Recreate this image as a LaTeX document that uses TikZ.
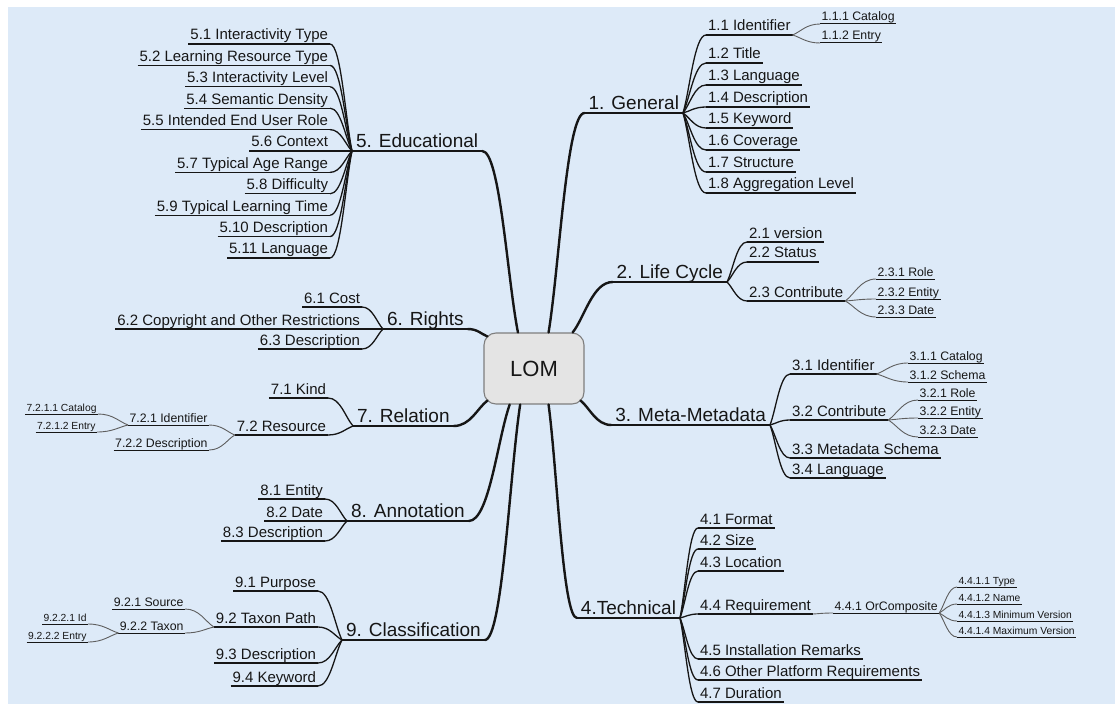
\documentclass[tikz,border=0pt]{standalone}
\usepackage{fontspec}
\setmainfont{Liberation Sans}
\usetikzlibrary{calc}

\definecolor{mapbg}{HTML}{DDEAF8}
\definecolor{rootfill}{HTML}{E4E4E4}
\definecolor{rootdraw}{HTML}{7E7E7E}
\definecolor{twig}{HTML}{5E5E5E}
\definecolor{ink}{HTML}{161616}

\newcommand\rootsize{\fontsize{22}{26}\selectfont}
\newcommand\mainsize{\fontsize{19}{22}\selectfont}
\newcommand\leafsize{\fontsize{15}{18}\selectfont}
\newcommand\subsize{\fontsize{12.3}{14}\selectfont}
\newcommand\smallestsize{\fontsize{10.3}{12}\selectfont}

\tikzset{
  lbl/.style={inner ysep=0pt, outer sep=0pt, text=ink},
  mainL/.style={lbl, font=\mainsize, inner xsep=4pt, text depth=3.5pt, anchor=south west},
  mainR/.style={lbl, font=\mainsize, inner xsep=4pt, text depth=3.5pt, anchor=south east},
  leafL/.style={lbl, font=\leafsize, inner xsep=2pt, text depth=4pt, anchor=south east},
  leafR/.style={lbl, font=\leafsize, inner xsep=2pt, text depth=4pt, anchor=south west},
  subL/.style={lbl, font=\subsize, inner xsep=1.5pt, text depth=3pt, anchor=south east},
  subR/.style={lbl, font=\subsize, inner xsep=1.5pt, text depth=3pt, anchor=south west},
  tinyL/.style={lbl, font=\smallestsize, inner xsep=1.5pt, text depth=2.5pt, anchor=south east},
  tinyR/.style={lbl, font=\smallestsize, inner xsep=1.5pt, text depth=2.5pt, anchor=south west},
  root/.style={draw=rootdraw, fill=rootfill, line width=1.1pt, rounded corners=12pt,
    minimum width=100pt, minimum height=71pt, font=\rootsize, text=ink},
  % curve that leaves its start towards the target and ends horizontally
  fan/.style={to path={let \p1=(\tikztostart), \p2=(\tikztotarget) in
      .. controls ($(\p1)!#1!(\p2)$) and ({0.5*\x1+0.5*\x2},\y2) .. (\tikztotarget)}},
  fan/.default=0.3,
  trunk/.style={draw=ink, line width=2.4pt, line cap=round},
  bough/.style={draw=ink, line width=1.3pt},
  twigline/.style={draw=twig, line width=0.9pt},
  rule/.style={draw=ink, line width=1.3pt},
  subrule/.style={draw=ink, line width=1pt},
}

\begin{document}
\begin{tikzpicture}[x=1pt,y=-1pt]
\fill[white] (0,0) rectangle (1115,711);
\fill[mapbg] (8,7) rectangle (1115,704);
\useasboundingbox (0,0) rectangle (1115,711);

% root
\node[root] (lom) at (534,368.5) {LOM};
\coordinate (a3) at ([shift={(-4,-4)}]lom.south east);
\coordinate (a6) at ([shift={(4,4)}]lom.north west);
\coordinate (a7) at ([shift={(4,-4)}]lom.south west);

% main branches
\node[mainR] (e1) at (683,113) {1. General};
\node[mainR] (e2) at (727,282) {2. Life Cycle};
\node[mainR] (e3) at (770,425) {3. Meta-Metadata};
\node[mainR] (e4) at (680,618) {4.Technical};
\node[mainL] (e5) at (352,151) {5. Educational};
\node[mainL] (e6) at (383,329) {6. Rights};
\node[mainL] (e7) at (353,426) {7. Relation};
\node[mainL] (e8) at (347,521) {8. Annotation};
\node[mainL] (e9) at (342,640) {9. Classification};

% 1. General
\node[leafR] (n11) at (706,35) {1.1 Identifier};
\node[leafR] (n12) at (706,63) {1.2 Title};
\node[leafR] (n13) at (706,85) {1.3 Language};
\node[leafR] (n14) at (706,107) {1.4 Description};
\node[leafR] (n15) at (706,128) {1.5 Keyword};
\node[leafR] (n16) at (706,150) {1.6 Coverage};
\node[leafR] (n17) at (706,172) {1.7 Structure};
\node[leafR] (n18) at (706,193) {1.8 Aggregation Level};
\node[subR] (n111) at (820,24) {1.1.1 Catalog};
\node[subR] (n112) at (820,43) {1.1.2 Entry};

% 2. Life Cycle
\node[leafR] (n21) at (747,242) {2.1 version};
\node[leafR] (n22) at (747,262) {2.2 Status};
\node[leafR] (n23) at (747,301) {2.3 Contribute};
\node[subR] (n231) at (876,279) {2.3.1 Role};
\node[subR] (n232) at (876,299) {2.3.2 Entity};
\node[subR] (n233) at (876,317) {2.3.3 Date};

% 3. Meta-Metadata
\node[leafR] (n31) at (790,374) {3.1 Identifier};
\node[leafR] (n32) at (790,420) {3.2 Contribute};
\node[leafR] (n33) at (790,458) {3.3 Metadata Schema};
\node[leafR] (n34) at (790,478) {3.4 Language};
\node[subR] (n311) at (908,363) {3.1.1 Catalog};
\node[subR] (n312) at (908,382) {3.1.2 Schema};
\node[subR] (n321) at (918,400) {3.2.1 Role};
\node[subR] (n322) at (918,418) {3.2.2 Entity};
\node[subR] (n323) at (918,437) {3.2.3 Date};

% 4. Technical
\node[leafR] (n41) at (698,528) {4.1 Format};
\node[leafR] (n42) at (698,549) {4.2 Size};
\node[leafR] (n43) at (698,571) {4.3 Location};
\node[leafR] (n44) at (698,614) {4.4 Requirement};
\node[leafR] (n45) at (698,659) {4.5 Installation Remarks};
\node[leafR] (n46) at (698,680) {4.6 Other Platform Requirements};
\node[leafR] (n47) at (698,702) {4.7 Duration};
\node[subR] (n441) at (833,613) {4.4.1 OrComposite};
\node[tinyR] (n4411) at (957,587) {4.4.1.1 Type};
\node[tinyR] (n4412) at (957,604) {4.4.1.2 Name};
\node[tinyR] (n4413) at (957,621) {4.4.1.3 Minimum Version};
\node[tinyR] (n4414) at (957,637) {4.4.1.4 Maximum Version};

% 5. Educational
\node[leafL] (n51) at (330,44) {5.1 Interactivity Type};
\node[leafL] (n52) at (330,65.4) {5.2 Learning Resource Type};
\node[leafL] (n53) at (330,86.8) {5.3 Interactivity Level};
\node[leafL] (n54) at (330,108.2) {5.4 Semantic Density};
\node[leafL] (n55) at (330,129.6) {5.5 Intended End User Role};
\node[leafL] (n56) at (330,151) {5.6 Context};
\node[leafL] (n57) at (330,172.4) {5.7 Typical Age Range};
\node[leafL] (n58) at (330,193.8) {5.8 Difficulty};
\node[leafL] (n59) at (330,215.2) {5.9 Typical Learning Time};
\node[leafL] (n510) at (330,236.6) {5.10 Description};
\node[leafL] (n511) at (330,258) {5.11 Language};

% 6. Rights
\node[leafL] (n61) at (362,307) {6.1 Cost};
\node[leafL] (n62) at (362,329) {6.2 Copyright and Other Restrictions};
\node[leafL] (n63) at (362,349) {6.3 Description};

% 7. Relation
\node[leafL] (n71) at (328,398) {7.1 Kind};
\node[leafL] (n72) at (328,435) {7.2 Resource};
\node[subL] (n721) at (209,425) {7.2.1 Identifier};
\node[subL] (n722) at (209,450) {7.2.2 Description};
\node[tinyL] (n7211) at (98,414) {7.2.1.1 Catalog};
\node[tinyL] (n7212) at (97,432) {7.2.1.2 Entry};

% 8. Annotation
\node[leafL] (n81) at (325,499) {8.1 Entity};
\node[leafL] (n82) at (325,521) {8.2 Date};
\node[leafL] (n83) at (325,541) {8.3 Description};

% 9. Classification
\node[leafL] (n91) at (318,591) {9.1 Purpose};
\node[leafL] (n92) at (318,627) {9.2 Taxon Path};
\node[leafL] (n93) at (318,663) {9.3 Description};
\node[leafL] (n94) at (318,686) {9.4 Keyword};
\node[subL] (n921) at (185,609) {9.2.1 Source};
\node[subL] (n922) at (185,633) {9.2.2 Taxon};
\node[tinyL] (n9221) at (88,624) {9.2.2.1 Id};
\node[tinyL] (n9222) at (88,642) {9.2.2.2 Entry};

% underlines
\foreach \k in {e1,e2,e3,e4,e5,e6,e7,e8,e9}
  \draw[trunk] (\k.south west) -- (\k.south east);
\foreach \k in {n11,n12,n13,n14,n15,n16,n17,n18,n21,n22,n23,n31,n32,n33,n34,
    n41,n42,n43,n44,n45,n46,n47,n51,n52,n53,n54,n55,n56,n57,n58,n59,n510,n511,
    n61,n62,n63,n71,n72,n81,n82,n83,n91,n92,n93,n94}
  \draw[rule] (\k.south west) -- (\k.south east);
\foreach \k in {n111,n112,n231,n232,n233,n311,n312,n321,n322,n323,n441,
    n4411,n4412,n4413,n4414,n721,n722,n7211,n7212,n921,n922,n9221,n9222}
  \draw[subrule] (\k.south west) -- (\k.south east);

% trunks from the root
\draw[trunk] (lom.68.5) to[fan] (e1.south west);
\draw[trunk] (lom.43) to[fan] (e2.south west);
\draw[trunk] (a3) to[fan] (e3.south west);
\draw[trunk] (lom.-68.5) to[fan] (e4.south west);
\draw[trunk] (lom.114) to[fan] (e5.south east);
\draw[trunk] (a6) to[fan] (e6.south east);
\draw[trunk] (a7) to[fan] (e7.south east);
\draw[trunk] (lom.-124) to[fan] (e8.south east);
\draw[trunk] (lom.-111.5) to[fan] (e9.south east);

% first-level boughs
\foreach \k in {n11,n12,n13,n14,n15,n16,n17,n18}
  \draw[bough] (e1.south east) to[fan] (\k.south west);
\foreach \k in {n21,n22,n23}
  \draw[bough] (e2.south east) to[fan] (\k.south west);
\foreach \k in {n31,n32,n33,n34}
  \draw[bough] (e3.south east) to[fan] (\k.south west);
\foreach \k in {n41,n42,n43,n44,n45,n46,n47}
  \draw[bough] (e4.south east) to[fan] (\k.south west);
\foreach \k in {n51,n52,n53,n54,n55,n56,n57,n58,n59,n510,n511}
  \draw[bough] (e5.south west) to[fan] (\k.south east);
\foreach \k in {n61,n62,n63}
  \draw[bough] (e6.south west) to[fan] (\k.south east);
\foreach \k in {n71,n72}
  \draw[bough] (e7.south west) to[fan] (\k.south east);
\foreach \k in {n81,n82,n83}
  \draw[bough] (e8.south west) to[fan] (\k.south east);
\foreach \k in {n91,n92,n93,n94}
  \draw[bough] (e9.south west) to[fan] (\k.south east);

% deeper twigs
\foreach \k in {n111,n112}
  \draw[twigline] (n11.south east) to[fan] (\k.south west);
\foreach \k in {n231,n232,n233}
  \draw[twigline] (n23.south east) to[fan] (\k.south west);
\foreach \k in {n311,n312}
  \draw[twigline] (n31.south east) to[fan] (\k.south west);
\foreach \k in {n321,n322,n323}
  \draw[twigline] (n32.south east) to[fan] (\k.south west);
\draw[twigline] (n44.south east) to[fan] (n441.south west);
\foreach \k in {n4411,n4412,n4413,n4414}
  \draw[twigline] (n441.south east) to[fan] (\k.south west);
\foreach \k in {n721,n722}
  \draw[twigline] (n72.south west) to[fan] (\k.south east);
\foreach \k in {n7211,n7212}
  \draw[twigline] (n721.south west) to[fan] (\k.south east);
\foreach \k in {n921,n922}
  \draw[twigline] (n92.south west) to[fan] (\k.south east);
\foreach \k in {n9221,n9222}
  \draw[twigline] (n922.south west) to[fan] (\k.south east);
\end{tikzpicture}
\end{document}
